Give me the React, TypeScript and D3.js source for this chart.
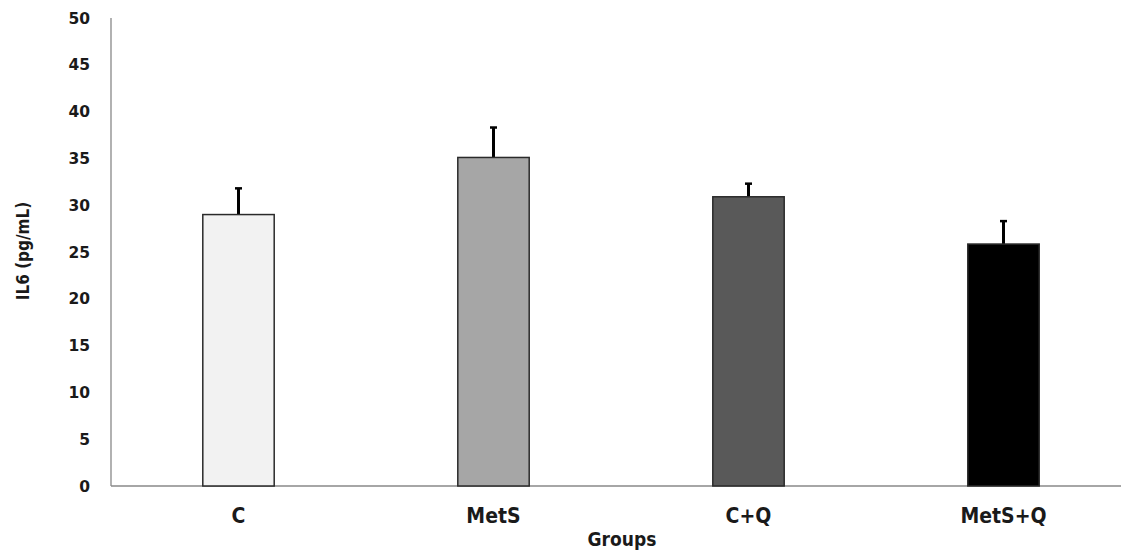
import { useEffect, useRef } from 'react';
import * as d3 from 'd3';

const groups = ['C', 'MetS', 'C+Q', 'MetS+Q'];
const means = [29, 35.1, 30.9, 25.85];
const errors = [2.8, 3.2, 1.4, 2.45];
const fills = ['#f2f2f2', '#a6a6a6', '#595959', '#000000'];
const yTicks = [0, 5, 10, 15, 20, 25, 30, 35, 40, 45, 50];

export default function App() {
  const ref = useRef<SVGSVGElement>(null);

  useEffect(() => {
    const width = 1126;
    const height = 552;
    const svg = d3.select(ref.current);
    svg.selectAll('*').remove();
    svg.attr('viewBox', `0 0 ${width} ${height}`);

    const left = 111;
    const right = 1131;
    const top = 18;
    const bottom = 486;

    const x = d3.scaleBand().domain(groups).range([left, right]).paddingInner(0.72).paddingOuter(0.36);
    const y = d3.scaleLinear().domain([0, 50]).range([bottom, top]);

    const tickFont = '"DejaVu Sans", Verdana, sans-serif';
    const labelFont = '"DejaVu Sans Condensed", "DejaVu Sans", sans-serif';

    // y tick labels
    svg
      .append('g')
      .selectAll('text')
      .data(yTicks)
      .join('text')
      .attr('x', 90)
      .attr('y', (d) => y(d) + 5.5)
      .attr('text-anchor', 'end')
      .attr('font-family', tickFont)
      .attr('font-weight', 'bold')
      .attr('font-size', 15.5)
      .attr('fill', '#1a1a1a')
      .text((d) => d);

    // axes lines
    svg
      .append('line')
      .attr('x1', left)
      .attr('x2', left)
      .attr('y1', top)
      .attr('y2', bottom)
      .attr('stroke', '#888')
      .attr('stroke-width', 1.3);

    svg
      .append('line')
      .attr('x1', left)
      .attr('x2', 1121)
      .attr('y1', bottom)
      .attr('y2', bottom)
      .attr('stroke', '#888')
      .attr('stroke-width', 1.3);

    // error bars
    svg
      .append('g')
      .selectAll('line')
      .data(groups)
      .join('line')
      .attr('x1', (d) => (x(d) ?? 0) + x.bandwidth() / 2)
      .attr('x2', (d) => (x(d) ?? 0) + x.bandwidth() / 2)
      .attr('y1', (_, i) => y(means[i]))
      .attr('y2', (_, i) => y(means[i] + errors[i]))
      .attr('stroke', '#000')
      .attr('stroke-width', 3);

    svg
      .append('g')
      .selectAll('line')
      .data(groups)
      .join('line')
      .attr('x1', (d) => (x(d) ?? 0) + x.bandwidth() / 2 - 3.5)
      .attr('x2', (d) => (x(d) ?? 0) + x.bandwidth() / 2 + 3.5)
      .attr('y1', (_, i) => y(means[i] + errors[i]))
      .attr('y2', (_, i) => y(means[i] + errors[i]))
      .attr('stroke', '#000')
      .attr('stroke-width', 2.5);

    // bars
    svg
      .append('g')
      .selectAll('rect')
      .data(groups)
      .join('rect')
      .attr('x', (d) => x(d) ?? 0)
      .attr('y', (_, i) => y(means[i]))
      .attr('width', x.bandwidth())
      .attr('height', (_, i) => bottom - y(means[i]))
      .attr('fill', (_, i) => fills[i])
      .attr('stroke', '#2a2a2a')
      .attr('stroke-width', 1.5);

    // category labels
    svg
      .append('g')
      .selectAll('text')
      .data(groups)
      .join('text')
      .attr('x', (d) => (x(d) ?? 0) + x.bandwidth() / 2)
      .attr('y', 523)
      .attr('text-anchor', 'middle')
      .attr('font-family', labelFont)
      .attr('font-weight', 'bold')
      .attr('font-size', 21)
      .attr('fill', '#1a1a1a')
      .text((d) => d);

    svg
      .append('text')
      .attr('x', 622)
      .attr('y', 546)
      .attr('text-anchor', 'middle')
      .attr('font-family', labelFont)
      .attr('font-weight', 'bold')
      .attr('font-size', 19)
      .attr('fill', '#1a1a1a')
      .text('Groups');

    svg
      .append('text')
      .attr('transform', `translate(29,${251}) rotate(-90)`)
      .attr('text-anchor', 'middle')
      .attr('font-family', labelFont)
      .attr('font-weight', 'bold')
      .attr('font-size', 17)
      .attr('fill', '#1a1a1a')
      .text('IL6 (pg/mL)');
  }, []);

  return (
    <svg
      ref={ref}
      width={1126}
      height={552}
      style={{ position: 'absolute', left: 0, top: 0, background: '#fff' }}
      role="img"
      aria-label="IL6 by group"
    />
  );
}
